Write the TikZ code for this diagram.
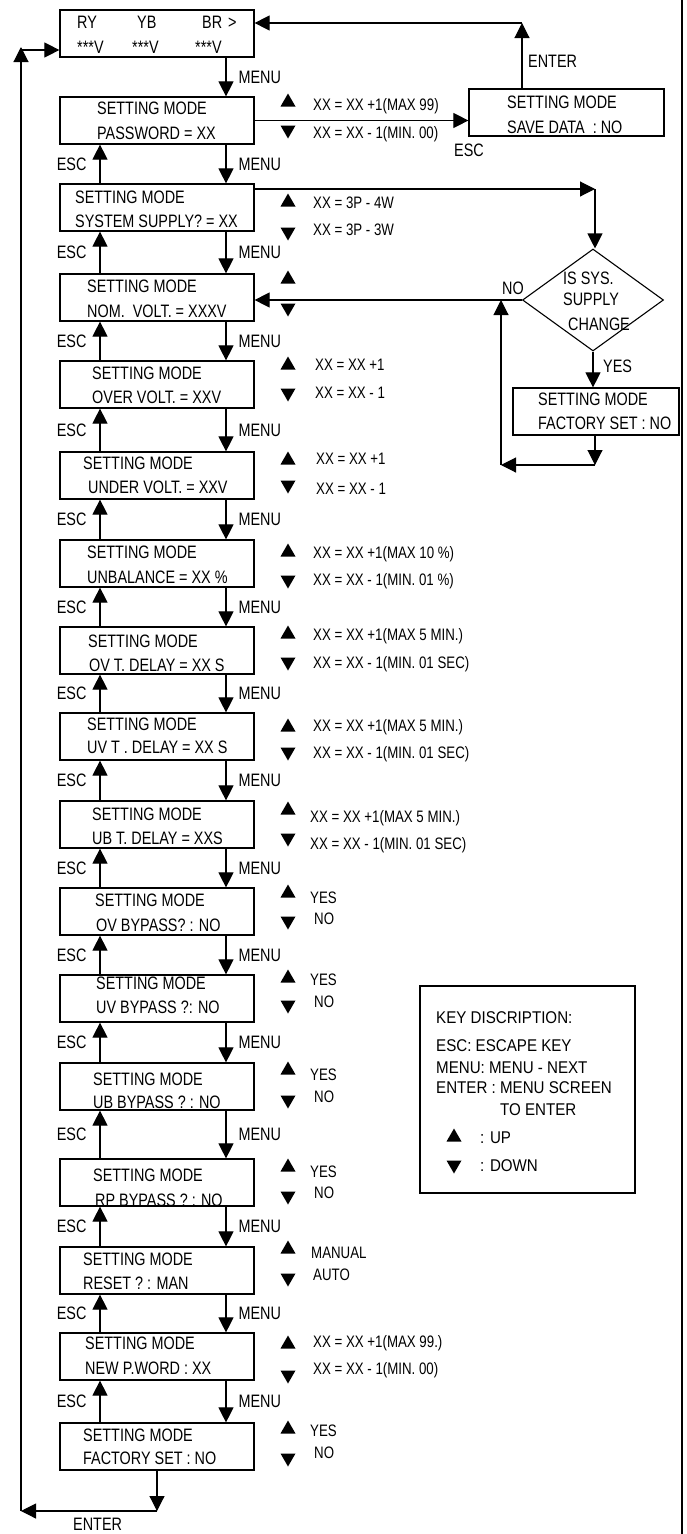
\documentclass[tikz,border=0pt]{standalone}
\usepackage{fontspec}
\setmainfont{Liberation Sans}[FakeStretch=0.8]
\newfontfamily\keyfont{Liberation Sans}[FakeStretch=0.89]
\usetikzlibrary{arrows.meta,shapes.geometric}

\tikzset{
  scr/.style={draw, line width=1.2pt, minimum width=194pt, minimum height=47pt, inner sep=0pt},
  txt/.style={anchor=west, inner sep=0pt, text height=12.9pt, text depth=0pt, font=\fontsize{18}{21}\selectfont},
  lbl/.style={inner sep=0pt, text height=12.9pt, text depth=0pt, font=\fontsize{18}{21}\selectfont},
  side/.style={anchor=west, inner sep=0pt, text height=11.9pt, text depth=0pt, font=\fontsize{16.6}{20}\selectfont},
  keytxt/.style={anchor=west, inner sep=0pt, text height=12.2pt, text depth=0pt, font=\keyfont\fontsize{17}{20}\selectfont},
  arr/.style={-{Triangle[width=15pt,length=15pt]}, line width=1.1pt},
  uptri/.pic={\fill (-7.5,6.5) -- (7.5,6.5) -- (0,-6.5) -- cycle;},
  dntri/.pic={\fill (-7.5,-6.5) -- (7.5,-6.5) -- (0,6.5) -- cycle;},
}

\begin{document}
\begin{tikzpicture}[x=1pt,y=-1pt]
\useasboundingbox (0,0) rectangle (687,1534);
\draw[line width=1.1pt] (682,0) -- (682,1534);

% voltage display
\node[scr] (lcd) at (157,33.5) {};
\node[txt] (ry) at (77,22) {RY};
\node[txt] (yb) at (137,22) {YB};
\node[txt] (br) at (202,22) {BR\hspace{6pt}>};
\node[txt] (vry) at (77,47) {***V};
\node[txt] (vyb) at (132,47) {***V};
\node[txt] (vbr) at (195,47) {***V};

% setting screens
\foreach \n/\y/\xa/\xb/\ya/\yb/\lab in {
  s1/97/97/97/108/133/PASSWORD = XX,
  s2/184/75/75/197/221/SYSTEM SUPPLY? = XX,
  s3/274/87/87/286/311/NOM.\ \ VOLT. = XXXV,
  s4/361/92/92/373/397/OVER VOLT. = XXV,
  s5/452/83/88/463/487/UNDER VOLT. = XXV,
  s6/540/87/87/552/577/UNBALANCE = XX \%,
  s7/627/88/89/641/665/OV T. DELAY = XX S,
  s8/713/87/87/724/747/UV T . DELAY = XX S,
  s9/801/92/92/814/838/UB T. DELAY = XXS,
  s10/888/95/96/900/925/OV BYPASS? : NO,
  s11/975/96/96/983/1007/UV BYPASS ?: NO,
  s12/1063/93/93/1079/1102/UB BYPASS ? : NO,
  s13/1159/93/95/1175/1200/RP BYPASS ? : NO,
  s14/1247/83/83/1259/1283/RESET ? : MAN,
  s15/1333/85/85/1343/1368/NEW P.WORD : XX,
  s16/1423/83/83/1435/1458/FACTORY SET : NO}{
  \node[scr] (\n) at (157,\y+23.5) {};
  \node[txt] (\n a) at (\xa,\ya) {SETTING MODE};
  \node[txt] (\n b) at (\xb,\yb) {\lab};
}

% menu and esc keys
\foreach \a/\b in {lcd/s1,s1/s2,s2/s3,s3/s4,s4/s5,s5/s6,s6/s7,s7/s8,s8/s9,
  s9/s10,s10/s11,s11/s12,s12/s13,s13/s14,s14/s15,s15/s16}
  \draw[arr] ([xshift=69pt]\a.south) -- ([xshift=69pt]\b.north)
    node[lbl, midway, anchor=west, xshift=12pt] {MENU};
\foreach \a/\b in {s1/s2,s2/s3,s3/s4,s4/s5,s5/s6,s6/s7,s7/s8,s8/s9,
  s9/s10,s10/s11,s11/s12,s12/s13,s13/s14,s14/s15,s15/s16}
  \draw[arr] ([xshift=-57pt]\b.north) -- ([xshift=-57pt]\a.south)
    node[lbl, midway, anchor=east, xshift=-13pt] {ESC};

% up / down keys
\foreach \n/\yu/\yd/\ya/\yb/\xa/\xb/\ta/\tb in {
  s1/100/132/105/133/313/313/XX = XX +1(MAX 99)/XX = XX - 1(MIN. 00),
  s2/200/234/203/230/313/313/XX = 3P - 4W/XX = 3P - 3W,
  s4/363/395/365/393/315/315/XX = XX +1/XX = XX - 1,
  s5/458/487/459/489/316/316/XX = XX +1/XX = XX - 1,
  s6/550/582/553/580/313/313/XX = XX +1(MAX 10 \%)/XX = XX - 1(MIN. 01 \%),
  s7/632/664/635/663/313/313/XX = XX +1(MAX 5 MIN.)/XX = XX - 1(MIN. 01 SEC),
  s8/725/754/726/753/313/313/XX = XX +1(MAX 5 MIN.)/XX = XX - 1(MIN. 01 SEC),
  s9/808/840/817/844/310/310/XX = XX +1(MAX 5 MIN.)/XX = XX - 1(MIN. 01 SEC),
  s10/891/923/898/919/310/314/YES/NO,
  s11/976/1007/980/1002/310/314/YES/NO,
  s12/1068/1102/1075/1097/310/314/YES/NO,
  s13/1165/1198/1172/1193/310/314/YES/NO,
  s14/1247/1280/1253/1275/311/313/MANUAL/AUTO,
  s15/1342/1377/1342/1369/313/313/XX = XX +1(MAX 99.)/XX = XX - 1(MIN. 00),
  s16/1427/1460/1431/1453/310/314/YES/NO}{
  \pic at (288,\yu) {uptri};
  \pic at (288,\yd) {dntri};
  \node[side] (\n up) at (\xa,\ya) {\ta};
  \node[side] (\n dn) at (\xb,\yb) {\tb};
}
\pic at (288,277) {uptri};
\pic at (288,310) {dntri};

% save data
\node[scr, minimum width=195pt] (save) at (566.5,112.5) {};
\node[txt] (savea) at (507,102) {SETTING MODE};
\node[txt] (saveb) at (507,127) {SAVE DATA\ \ : NO};
\draw[arr] (s1.east) -- (s1.east -| save.west);
\node[lbl] (esc0) at (469,150) {ESC};
\coordinate (ent) at (522,23);
\draw[arr] (save.north -| ent) -- (ent);
\draw[arr] (ent) -- (ent -| lcd.east);
\node[txt] (entl) at (528,61) {ENTER};

% supply change
\coordinate (ss) at (595,189);
\draw[arr] (s2.east |- ss) -- (ss);
\node[diamond, draw, line width=1.1pt, inner sep=0pt, minimum width=141pt, minimum height=102pt] (chg) at (593,300) {};
\node[txt] (chga) at (563,278) {IS SYS.};
\node[txt] (chgb) at (563,299) {SUPPLY};
\node[txt] (chgc) at (568,324) {CHANGE};
\draw[arr] (ss) -- (ss |- chg.north);
\node[scr, minimum width=166pt] (fac) at (596,411.5) {};
\node[txt] (faca) at (538,399) {SETTING MODE};
\node[txt] (facb) at (538,423) {FACTORY SET : NO};
\draw[arr] (chg.south) -- (chg.south |- fac.north);
\node[txt] (yes) at (603,366) {YES};
\coordinate (lp) at (595,465);
\coordinate (lq) at (501,465);
\draw[arr] (fac.south -| lp) -- (lp);
\draw[arr] (lp) -- (lq);
\draw[arr] (lq) -- (lq |- chg.west);
\draw[arr] (chg.west) -- (chg.west -| s3.east);
\node[txt] (no) at (502,288) {NO};

% back to display
\coordinate (lt) at (21,50);
\coordinate (lb) at (21,1511);
\coordinate (fb) at (157,1511);
\draw[arr] (s16.south) -- (fb);
\draw[arr] (fb) -- (lb);
\draw[arr] (lb) -- ([yshift=3pt]lt);
\draw[arr] (lt) -- (lt -| lcd.west);
\node[txt] (entb) at (73,1524) {ENTER};

% key description
\node[draw, line width=1.2pt, minimum width=215pt, minimum height=207pt] (key) at (527.5,1089.5) {};
\node[keytxt] (k1) at (436,1017) {KEY DISCRIPTION:};
\node[keytxt] (k2) at (436,1045) {ESC: ESCAPE KEY};
\node[keytxt] (k3) at (436,1067) {MENU: MENU - NEXT};
\node[keytxt] (k4) at (436,1087) {ENTER : MENU SCREEN};
\node[keytxt] (k5) at (500,1109) {TO ENTER};
\pic at (454,1135) {uptri};
\node[keytxt] (k6) at (480,1137) {: UP};
\pic at (454,1167) {dntri};
\node[keytxt] (k7) at (480,1165) {: DOWN};
\end{tikzpicture}
\end{document}
